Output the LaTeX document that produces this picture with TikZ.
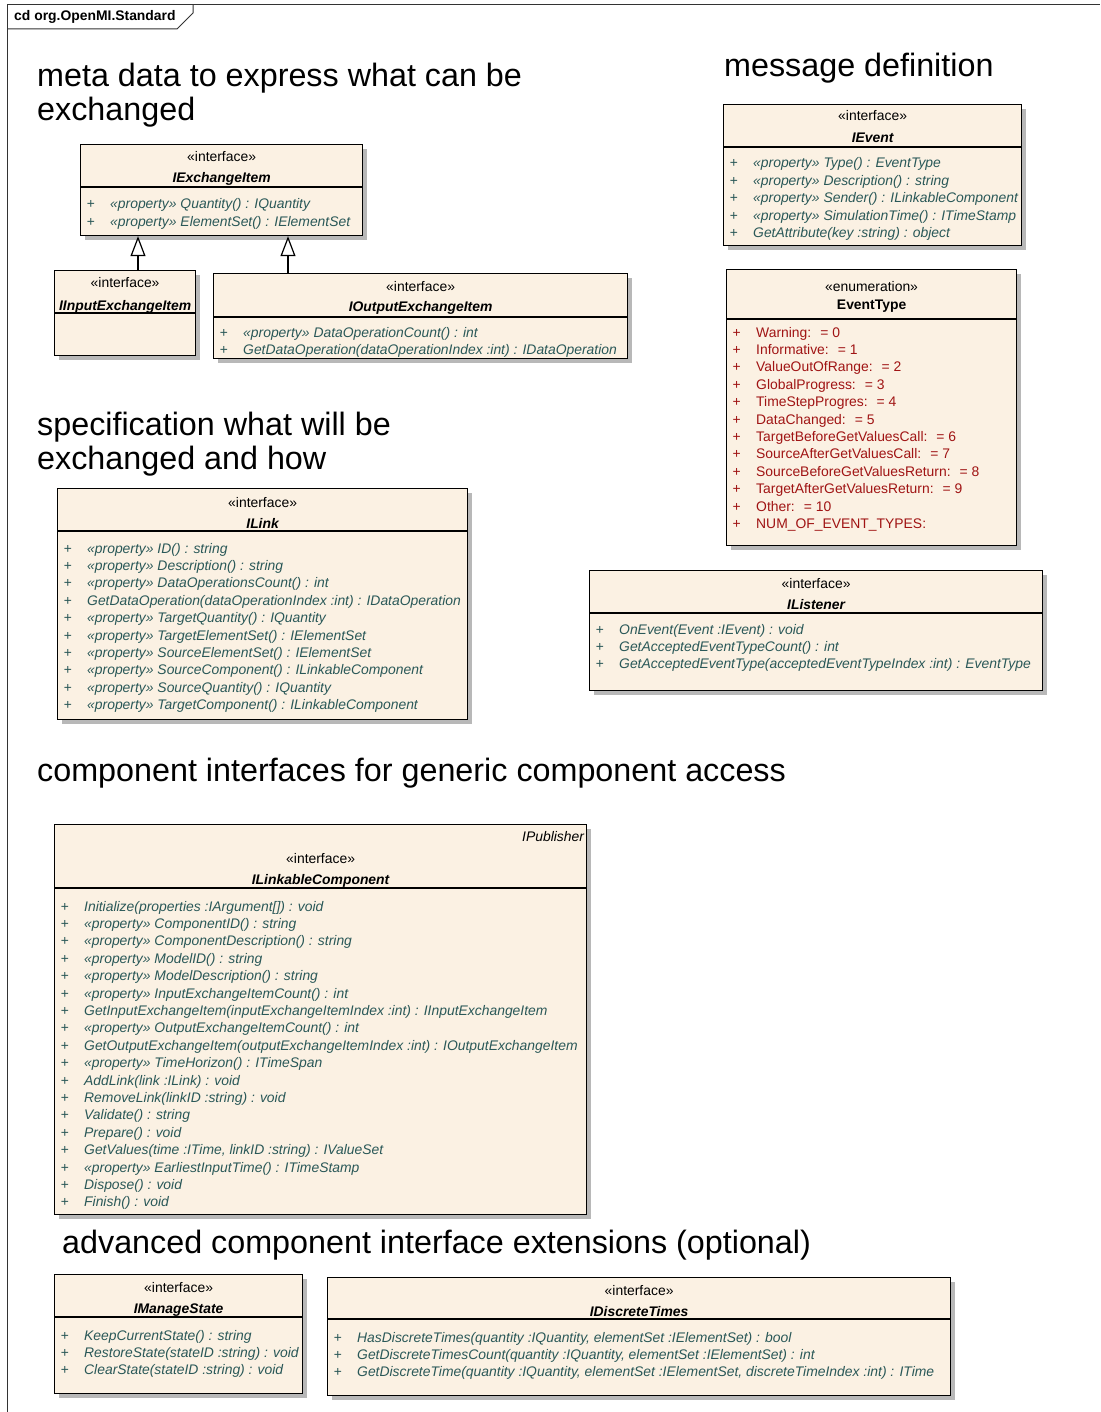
\documentclass[tikz,border=0pt]{standalone}
\usepackage{fontspec}
\setmainfont{Liberation Sans}
\usetikzlibrary{calc,shadows,arrows.meta}

\definecolor{fond}{HTML}{FBF1E3}
\definecolor{sarcelle}{HTML}{2A5858}
\definecolor{rouge}{HTML}{A01414}

\newcommand{\petit}{\fontsize{13.9}{16}\selectfont}
\newcommand{\classe}[9]{% nom, x1, y1, x2, y2, separation, y stereotype, y nom, stereotype
  \node[classbox, anchor=north west, minimum width={#4-#2}, minimum height={#5-#3}] (#1) at (#2,#3) {};
  \draw[line width=1.2pt] (#1.west |- 0,#6) -- (#1.east |- 0,#6);
  \node[stereo] (#1-st) at (#1.north |- 0,{#7+6}) {«#9»};
  \node[titre-#9] (#1-nom) at (#1.north |- 0,{#8+6}) {#1};}
\newcommand{\membres}[4]{% classe, y premier, style, liste
  \foreach \t [count=\i] in {#4}
    \node[#3] (#1-\i) at ([xshift=6.5pt]#1.west |- 0,{#2+6+(\i-1)*17.4}) {\makebox[23.5pt][l]{+}\t};}

\tikzset{
  classbox/.style={draw=black, line width=1.2pt, fill=fond, inner sep=0pt,
    drop shadow={shadow xshift=4pt, shadow yshift=-4pt, fill=black!28, opacity=1}},
  stereo/.style={anchor=base, inner sep=0pt, font=\petit},
  titre-interface/.style={anchor=base, inner sep=0pt, font=\petit\bfseries\itshape},
  titre-enumeration/.style={anchor=base, inner sep=0pt, font=\petit\bfseries},
  op/.style={anchor=base west, inner sep=0pt, text=sarcelle, font=\petit\itshape},
  lit/.style={anchor=base west, inner sep=0pt, text=rouge, font=\petit},
  rubrique/.style={anchor=base west, inner sep=0pt, font=\fontsize{32.3}{34}\selectfont},
  herite/.style={line width=1.2pt, -{Triangle[open, length=20pt, width=15pt]}}
}

\begin{document}
\begin{tikzpicture}[x=1pt, y=-1pt]
  \fill[white] (0,0) rectangle (1100,1412);
  \useasboundingbox (0,0) rectangle (1100,1412);
  % cadre du diagramme
  \draw[line width=1pt, black!80] (7,1412) -- (7,5) -- (1100,5);
  \draw[line width=1pt, black!80] (7,29) -- (177,29) -- (193,13) -- (193,5);
  \node[anchor=base west, inner sep=0pt, font=\petit\bfseries] (cadre) at (14,21) {cd org.OpenMI.Standard};

  % titres
  \node[rubrique] (t1a) at (37,87) {meta data to express what can be};
  \node[rubrique] (t1b) at (37,121) {exchanged};
  \node[rubrique] (t2) at (724,77) {message definition};
  \node[rubrique] (t3a) at (37,435) {specification what will be};
  \node[rubrique] (t3b) at (37,469) {exchanged and how};
  \node[rubrique] (t4) at (37,781) {component interfaces for generic component access};
  \node[rubrique] (t5) at (62,1253) {advanced component interface extensions (optional)};

  % echange
  \classe{IExchangeItem}{80}{144}{362}{235}{187}{156}{177}{interface}
  \membres{IExchangeItem}{203}{op}{«property» Quantity() : IQuantity, «property» ElementSet() : IElementSet}
  \classe{IInputExchangeItem}{54}{270}{195}{355}{313}{282}{304}{interface}
  \classe{IOutputExchangeItem}{213}{273}{627}{358}{317}{285}{306}{interface}
  \membres{IOutputExchangeItem}{331}{op}{«property» DataOperationCount() : int,
    GetDataOperation(dataOperationIndex :int) : IDataOperation}
  \coordinate (a1) at (138,0);
  \coordinate (a2) at (288,0);
  \draw[herite] (IInputExchangeItem.north -| a1) -- (IExchangeItem.south -| a1);
  \draw[herite] (IOutputExchangeItem.north -| a2) -- (IExchangeItem.south -| a2);

  % evenements
  \classe{IEvent}{723}{104}{1021}{245}{147}{115}{137}{interface}
  \membres{IEvent}{162}{op}{«property» Type() : EventType, «property» Description() : string,
    «property» Sender() : ILinkableComponent, «property» SimulationTime() : ITimeStamp,
    GetAttribute(key :string) : object}
  \classe{EventType}{726}{269}{1016}{545}{319}{285}{303}{enumeration}
  \membres{EventType}{331}{lit}{Warning: \ = 0, Informative: \ = 1, ValueOutOfRange: \ = 2,
    GlobalProgress: \ = 3, TimeStepProgres: \ = 4, DataChanged: \ = 5,
    TargetBeforeGetValuesCall: \ = 6, SourceAfterGetValuesCall: \ = 7,
    SourceBeforeGetValuesReturn: \ = 8, TargetAfterGetValuesReturn: \ = 9,
    Other: \ = 10, NUM\_OF\_EVENT\_TYPES:}
  \classe{IListener}{589}{570}{1042}{690}{613}{582}{603}{interface}
  \membres{IListener}{628}{op}{OnEvent(Event :IEvent) : void, GetAcceptedEventTypeCount() : int,
    GetAcceptedEventType(acceptedEventTypeIndex :int) : EventType}

  % lien
  \classe{ILink}{57}{488}{467}{719}{531}{501}{522}{interface}
  \membres{ILink}{547}{op}{«property» ID() : string, «property» Description() : string,
    «property» DataOperationsCount() : int, GetDataOperation(dataOperationIndex :int) : IDataOperation,
    «property» TargetQuantity() : IQuantity, «property» TargetElementSet() : IElementSet,
    «property» SourceElementSet() : IElementSet, «property» SourceComponent() : ILinkableComponent,
    «property» SourceQuantity() : IQuantity, «property» TargetComponent() : ILinkableComponent}

  % composant
  \classe{ILinkableComponent}{54}{824}{586}{1214}{888}{857}{878}{interface}
  \node[stereo, anchor=base east, font=\petit\itshape] (ILinkableComponent-pub)
    at ([xshift=-3pt]ILinkableComponent.east |- 0,841) {IPublisher};
  \membres{ILinkableComponent}{905}{op}{Initialize(properties :IArgument[]) : void,
    «property» ComponentID() : string, «property» ComponentDescription() : string,
    «property» ModelID() : string, «property» ModelDescription() : string,
    «property» InputExchangeItemCount() : int,
    GetInputExchangeItem(inputExchangeItemIndex :int) : IInputExchangeItem,
    «property» OutputExchangeItemCount() : int,
    GetOutputExchangeItem(outputExchangeItemIndex :int) : IOutputExchangeItem,
    «property» TimeHorizon() : ITimeSpan, AddLink(link :ILink) : void,
    RemoveLink(linkID :string) : void, Validate() : string, Prepare() : void,
    {GetValues(time :ITime, linkID :string) : IValueSet},
    «property» EarliestInputTime() : ITimeStamp, Dispose() : void, Finish() : void}

  % extensions
  \classe{IManageState}{54}{1274}{302}{1393}{1317}{1286}{1307}{interface}
  \membres{IManageState}{1334}{op}{KeepCurrentState() : string,
    RestoreState(stateID :string) : void, ClearState(stateID :string) : void}
  \classe{IDiscreteTimes}{327}{1277}{950}{1395}{1319}{1289}{1310}{interface}
  \membres{IDiscreteTimes}{1336}{op}{{HasDiscreteTimes(quantity :IQuantity, elementSet :IElementSet) : bool},
    {GetDiscreteTimesCount(quantity :IQuantity, elementSet :IElementSet) : int},
    {GetDiscreteTime(quantity :IQuantity, elementSet :IElementSet, discreteTimeIndex :int) : ITime}}
\end{tikzpicture}
\end{document}
